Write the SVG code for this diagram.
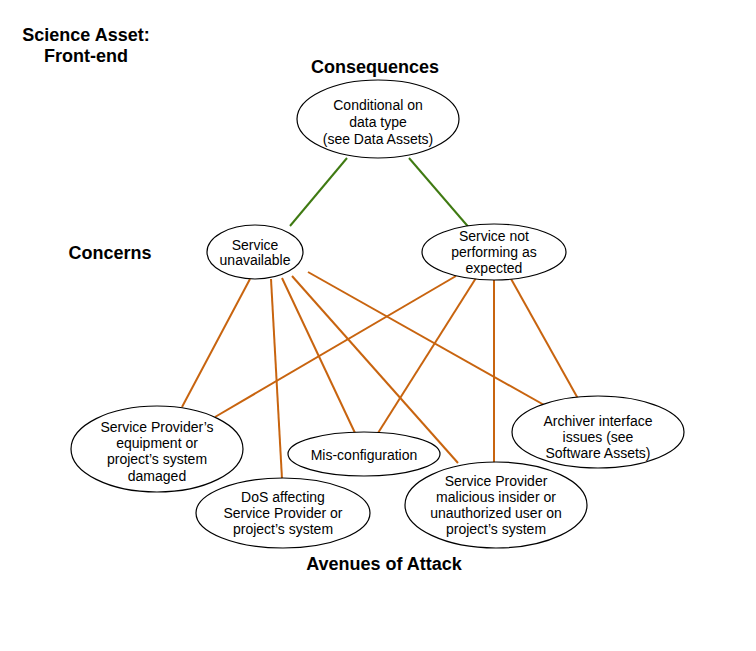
<svg xmlns="http://www.w3.org/2000/svg" width="756" height="651" viewBox="0 0 756 651">
  <style>
    .bg { fill: #ffffff; }
    .node ellipse { fill: #ffffff; stroke: #000000; stroke-width: 1.2; }
    .node text { font-family: "Liberation Sans", Arial, sans-serif; font-size: 14px; fill: #000000; text-anchor: middle; }
    .heading { font-family: "Liberation Sans", Arial, sans-serif; font-size: 18px; font-weight: bold; fill: #000000; text-anchor: middle; }
    .green { stroke: #3f7a12; stroke-width: 2; fill: none; }
    .orange { stroke: #c8640f; stroke-width: 2; fill: none; }
  </style>
  <rect class="bg" x="0" y="0" width="756" height="651"/>

  <!-- headings -->
  <text class="heading" x="86" y="41">Science Asset:</text>
  <text class="heading" x="86" y="62">Front-end</text>
  <text class="heading" x="375" y="73">Consequences</text>
  <text class="heading" x="110" y="259">Concerns</text>
  <text class="heading" x="384" y="570">Avenues of Attack</text>

  <!-- connectors -->
  <g id="connectors">
    <line class="green" x1="347" y1="158" x2="290" y2="226"/>
    <line class="green" x1="409" y1="158" x2="471" y2="230"/>

    <line class="orange" x1="250" y1="279" x2="182" y2="407"/>
    <line class="orange" x1="271" y1="279" x2="282" y2="479"/>
    <line class="orange" x1="282" y1="278" x2="355" y2="433"/>
    <line class="orange" x1="292" y1="276" x2="458" y2="463"/>
    <line class="orange" x1="308" y1="272" x2="553" y2="410"/>

    <line class="orange" x1="456" y1="276" x2="215" y2="417"/>
    <line class="orange" x1="476" y1="278" x2="378" y2="433"/>
    <line class="orange" x1="494" y1="279" x2="494" y2="463"/>
    <line class="orange" x1="510" y1="277" x2="581" y2="404"/>
  </g>

  <!-- nodes -->
  <g id="consequence" class="node">
    <ellipse cx="378" cy="119" rx="81" ry="39"/>
    <text x="378" y="110">Conditional on</text>
    <text x="378" y="127">data type</text>
    <text x="378" y="144">(see Data Assets)</text>
  </g>

  <g id="service-unavailable" class="node">
    <ellipse cx="255" cy="252" rx="48" ry="27"/>
    <text x="255" y="250">Service</text>
    <text x="255" y="265">unavailable</text>
  </g>

  <g id="service-not-performing" class="node">
    <ellipse cx="494" cy="252" rx="72" ry="28"/>
    <text x="494" y="241">Service not</text>
    <text x="494" y="257">performing as</text>
    <text x="494" y="273">expected</text>
  </g>

  <g id="equipment-damaged" class="node">
    <ellipse cx="157" cy="449" rx="86" ry="43"/>
    <text x="157" y="432">Service Provider’s</text>
    <text x="157" y="448">equipment or</text>
    <text x="157" y="464">project’s system</text>
    <text x="157" y="481">damaged</text>
  </g>

  <g id="mis-configuration" class="node">
    <ellipse cx="364" cy="454" rx="76" ry="22"/>
    <text x="364" y="460">Mis-configuration</text>
  </g>

  <g id="archiver-interface" class="node">
    <ellipse cx="598" cy="432" rx="86" ry="36"/>
    <text x="598" y="426">Archiver interface</text>
    <text x="598" y="442">issues (see</text>
    <text x="598" y="458">Software Assets)</text>
  </g>

  <g id="dos" class="node">
    <ellipse cx="283" cy="513" rx="87" ry="35"/>
    <text x="283" y="502">DoS affecting</text>
    <text x="283" y="518">Service Provider or</text>
    <text x="283" y="534">project’s system</text>
  </g>

  <g id="malicious-insider" class="node">
    <ellipse cx="496" cy="505" rx="91" ry="43"/>
    <text x="496" y="486">Service Provider</text>
    <text x="496" y="502">malicious insider or</text>
    <text x="496" y="518">unauthorized user on</text>
    <text x="496" y="534">project’s system</text>
  </g>
</svg>
